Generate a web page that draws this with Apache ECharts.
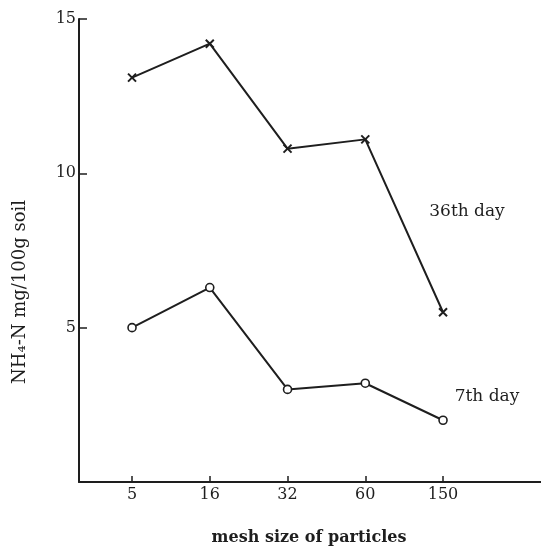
<!DOCTYPE html>
<html>
<head>
<meta charset="utf-8">
<script src="https://cdn.jsdelivr.net/npm/echarts@6/dist/echarts.min.js"></script>
<style>html,body{margin:0;padding:0;background:#fff}#c{width:541px;height:547px}</style>
</head>
<body>
<div id="c"></div>
<script>
var categories = ['5', '16', '32', '60', '150'];
var day36 = [13.1, 14.2, 10.8, 11.1, 5.5];
var day7 = [5.0, 6.3, 3.0, 3.2, 2.0];
var yTicks = [5, 10, 15];
var xTitle = 'mesh size of particles';
var yTitle = 'NH\u2084-N mg/100g soil';
var label36 = '36th day';
var label7 = '7th day';

var positions = categories.map(function (c, i) { return i + 1; });
function pts(arr) { return arr.map(function (v, i) { return [positions[i], v]; }); }

var FONT = '"DejaVu Serif"';
var INK = '#1e1e1e';
var chart = echarts.init(document.getElementById('c'), null, {renderer: 'canvas'});
chart.setOption({
  backgroundColor: '#fff',
  animation: false,
  grid: {left: 79, top: 19, right: 0, bottom: 65, containLabel: false},
  xAxis: {
    type: 'value', min: 0.318, max: 6.26,
    splitLine: {show: false},
    axisLine: {show: true, lineStyle: {color: INK, width: 2}},
    axisTick: {show: true, inside: true, length: 6, customValues: positions, lineStyle: {color: INK, width: 1.5}},
    axisLabel: {
      customValues: positions, margin: 5,
      fontFamily: FONT, fontSize: 16, color: INK,
      formatter: function (v) { return categories[Math.round(v) - 1] || ''; }
    }
  },
  yAxis: {
    type: 'value', min: 0, max: 15, interval: 5,
    splitLine: {show: false},
    axisLine: {show: true, lineStyle: {color: INK, width: 2}},
    axisTick: {show: true, inside: true, length: 8, lineStyle: {color: INK, width: 1.5}},
    axisLabel: {
      margin: 3, fontFamily: FONT, fontSize: 16, color: INK,
      formatter: function (v) { return yTicks.indexOf(v) >= 0 ? String(v) : ''; }
    }
  },
  series: [
    {
      type: 'line', data: pts(day36),
      symbol: 'path://M0 0L10 10M10 0L0 10', symbolSize: 8,
      itemStyle: {color: 'none', borderColor: INK, borderWidth: 2},
      lineStyle: {color: INK, width: 2}
    },
    {
      type: 'line', data: pts(day7),
      symbol: 'circle', symbolSize: 8,
      itemStyle: {color: '#fff', borderColor: INK, borderWidth: 1.6},
      lineStyle: {color: INK, width: 2}
    }
  ],
  graphic: [
    {type: 'text', x: 467, y: 212, style: {text: label36, font: '17px ' + FONT, fill: INK, align: 'center', verticalAlign: 'middle'}},
    {type: 'text', x: 487, y: 397, style: {text: label7, font: '17px ' + FONT, fill: INK, align: 'center', verticalAlign: 'middle'}},
    {type: 'text', x: 309, y: 538, style: {text: xTitle, font: 'bold 16px ' + FONT, fill: INK, align: 'center', verticalAlign: 'middle'}},
    {type: 'text', x: 20, y: 292, rotation: Math.PI / 2, style: {text: yTitle, font: '18px ' + FONT, fill: INK, align: 'center', verticalAlign: 'middle'}}
  ]
});
</script>
</body>
</html>
